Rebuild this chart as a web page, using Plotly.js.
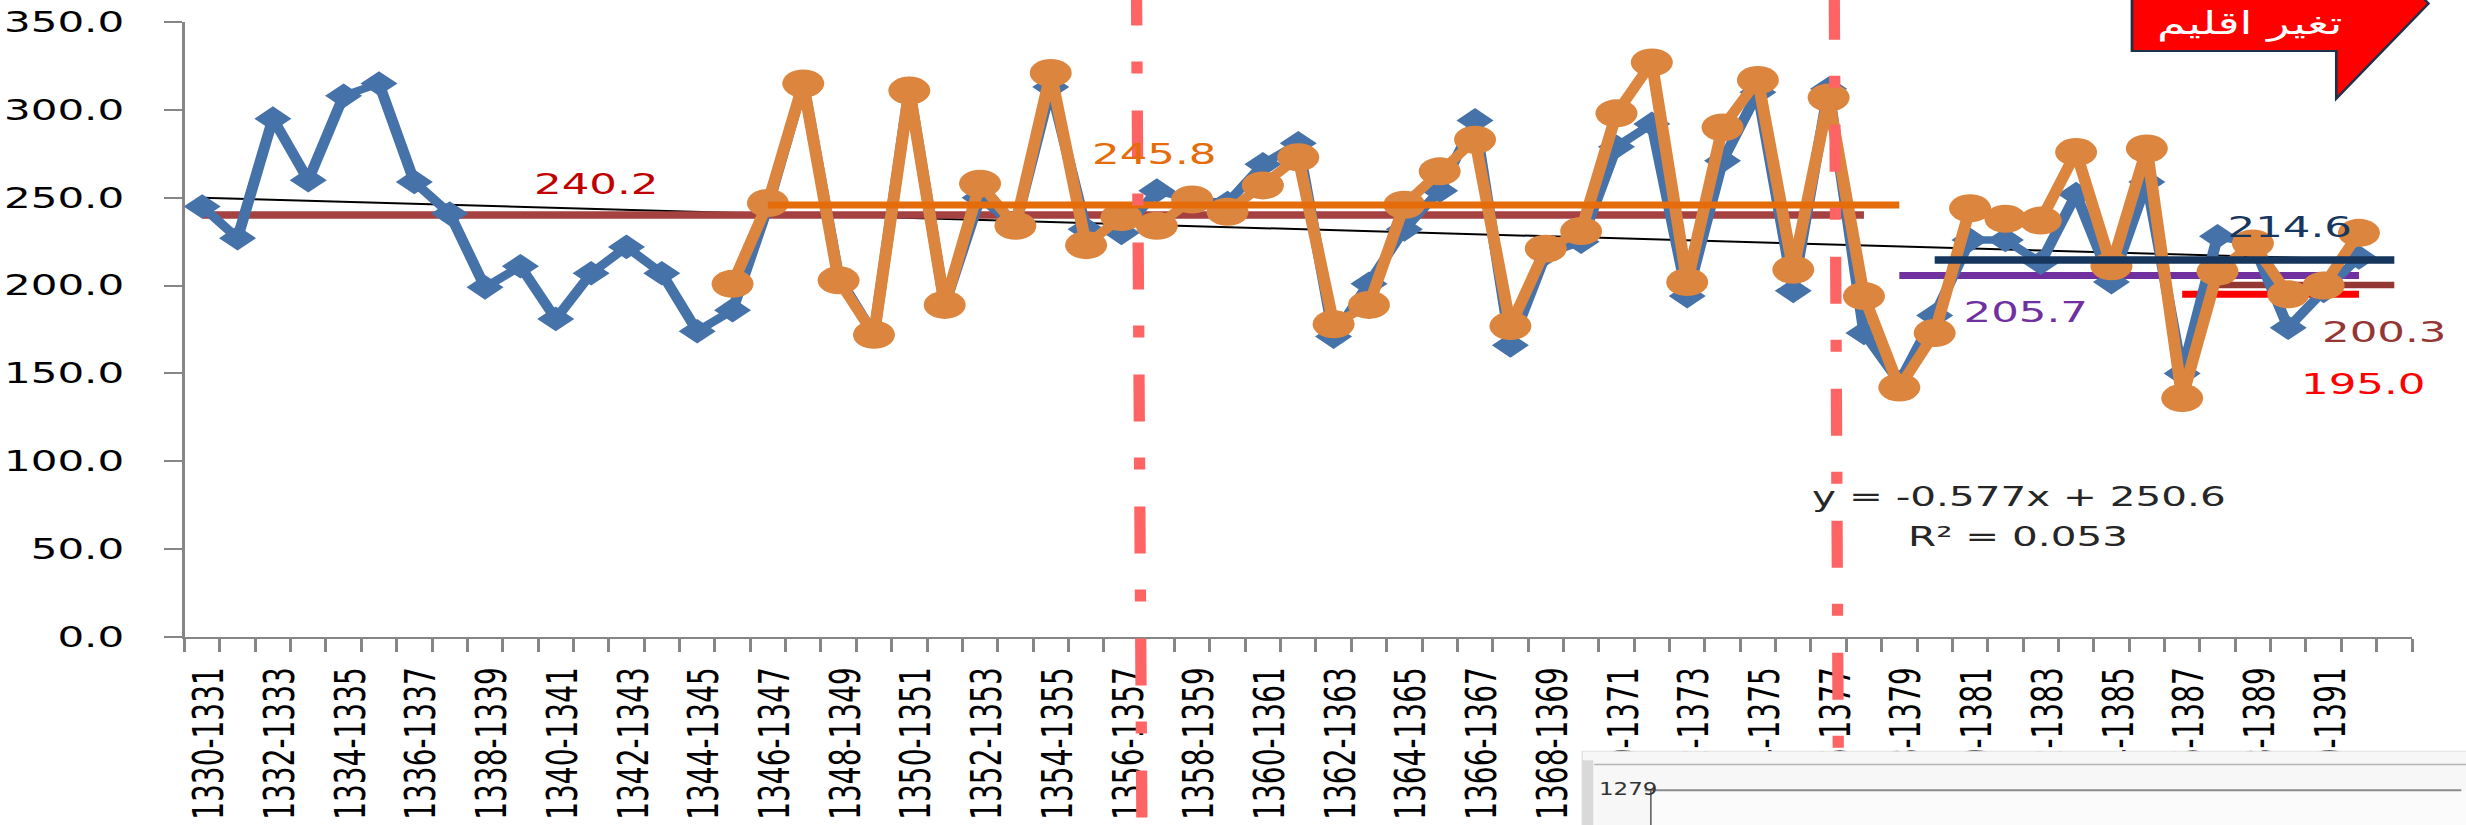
<!DOCTYPE html>
<html>
<head>
<meta charset="utf-8">
<script src="https://cdn.plot.ly/plotly-3.0.1.min.js"></script>
<style>
html, body { margin:0; padding:0; background:#ffffff; overflow:hidden; width:2466px; height:825px; }
#wrap { width:1644px; height:825px; transform:scaleX(1.5); transform-origin:0 0; }
#chart { width:1644px; height:825px; }
</style>
</head>
<body>
<div id="wrap"><div id="chart"></div></div>
<script>
// ---------------- DATA ----------------
const categories = [
  "1330-1331","1331-1332","1332-1333","1333-1334","1334-1335","1335-1336","1336-1337","1337-1338",
  "1338-1339","1339-1340","1340-1341","1341-1342","1342-1343","1343-1344","1344-1345","1345-1346",
  "1346-1347","1347-1348","1348-1349","1349-1350","1350-1351","1351-1352","1352-1353","1353-1354",
  "1354-1355","1355-1356","1356-1357","1357-1358","1358-1359","1359-1360","1360-1361","1361-1362",
  "1362-1363","1363-1364","1364-1365","1365-1366","1366-1367","1367-1368","1368-1369","1369-1370",
  "1370-1371","1371-1372","1372-1373","1373-1374","1374-1375","1375-1376","1376-1377","1377-1378",
  "1378-1379","1379-1380","1380-1381","1381-1382","1382-1383","1383-1384","1384-1385","1385-1386",
  "1386-1387","1387-1388","1388-1389","1389-1390","1390-1391","1391-1392","1392-1393"
];
const tickLabels = [
  "1330-1331","","1332-1333","","1334-1335","","1336-1337","",
  "1338-1339","","1340-1341","","1342-1343","","1344-1345","",
  "1346-1347","","1348-1349","","1350-1351","","1352-1353","",
  "1354-1355","","1356-1357","","1358-1359","","1360-1361","",
  "1362-1363","","1364-1365","","1366-1367","","1368-1369","",
  "1370-1371","","1372-1373","","1374-1375","","1376-1377","",
  "1378-1379","","1380-1381","","1382-1383","","1384-1385","",
  "1386-1387","","1388-1389","","1390-1391","",""
];
const blueValues = [
  245, 227, 295, 260, 308, 315, 259, 241, 199, 211, 181, 207, 222, 207, 174, 186,
  245, 315, 205, 172, 312, 189, 250, 234, 313, 232, 230, 254, 249, 247, 269, 281,
  171, 201, 232, 254, 294, 166, 218, 225, 279, 292, 194, 271, 310, 197, 312, 173,
  145, 183, 226, 226, 213, 252, 202, 259, 150, 228, 224, 176, 197, 216
];
const orangeValues = [
  null, null, null, null, null, null, null, null, null, null, null, null, null, null, null, 201,
  247, 315, 203, 172, 311, 189, 258, 234, 321, 223, 239, 234, 249, 242, 257, 273,
  178, 189, 246, 265, 283, 177, 221, 231, 298, 327, 202, 290, 317, 209, 307, 194,
  142, 173, 244, 238, 237, 276, 211, 278, 136, 208, 224, 195, 200, 230
];
// period averages (value, first and last category index)
const meanValues = [240.2, 245.8, 214.6, 205.7, 200.3, 195.0];
const meanLabels = ["240.2", "245.8", "214.6", "205.7", "200.3", "195.0"];
const meanFrom   = [0, 16, 49, 48, 57, 56];
const meanTo     = [47, 48, 62, 61, 62, 61];
// linear trend (y = -0.577x + 250.6), end points
const trendValues = [250.0, 214.8];
const trendIdx = [0, 61];
const trendText = ["y = -0.577x + 250.6", "R² = 0.053"];
const calloutText = "تغیر اقلیم";
const overlayText = "1279";

// ---------------- GEOMETRY ----------------
const S = 1.5, W = 1644, H = 825;
const L = 184.3 / S, R = 2411.7 / S, T = 21.7, B = 636.7;
const px = x => (x / S - L) / (R - L);
const py = y => (B - y) / (B - T);

const FONT = "DejaVu Sans";
const meanColors = ["#A64141", "#E46C0A", "#17365D", "#7030A0", "#953735", "#FF0000"];
const meanWidths = [7.5, 7, 7.5, 7, 6.5, 7];

function meanTrace(k) {
  return {
    x: [categories[meanFrom[k]], categories[meanTo[k]]],
    y: [meanValues[k], meanValues[k]],
    mode: "lines", type: "scatter", hoverinfo: "skip",
    line: { color: meanColors[k], width: meanWidths[k] }
  };
}

const traces = [];
traces.push({
  x: trendIdx.map(i => categories[i]), y: trendValues,
  mode: "lines", type: "scatter", hoverinfo: "skip",
  line: { color: "#000000", width: 2 }
});
[0, 3, 5, 4].forEach(k => traces.push(meanTrace(k)));
traces.push({
  x: categories.slice(0, blueValues.length), y: blueValues,
  mode: "lines+markers", type: "scatter",
  line: { color: "#4672AA", width: 7.5 },
  marker: { symbol: "diamond", size: 19, color: "#4672AA" }
});
traces.push({
  x: categories.slice(0, orangeValues.length), y: orangeValues,
  mode: "lines+markers", type: "scatter", connectgaps: false,
  line: { color: "#DC853E", width: 8 },
  marker: { symbol: "circle", size: 28, color: "#DC853E" }
});
[2, 1].forEach(k => traces.push(meanTrace(k)));

// ---------------- ANNOTATIONS ----------------
const labelPos = [[595.5, 184], [1154, 154], [2290, 226.7], [2025, 311.7], [2384.2, 331.7], [2363.3, 383.3]];
const labelColors = ["#C00000", "#E46C0A", "#17375E", "#7030A0", "#943634", "#FF0000"];
const annotations = meanLabels.map((t, k) => ({
  text: t, xref: "paper", yref: "paper", x: px(labelPos[k][0]), y: py(labelPos[k][1]),
  xanchor: "center", yanchor: "middle", showarrow: false,
  font: { family: FONT, size: 29, color: labelColors[k] }
}));
annotations.push({
  text: trendText[0], xref: "paper", yref: "paper", x: px(1808), y: py(496),
  xanchor: "left", yanchor: "middle", showarrow: false,
  font: { family: FONT, size: 27, color: "#262626" }
});
annotations.push({
  text: trendText[1], xref: "paper", yref: "paper", x: px(1905), y: py(536),
  xanchor: "left", yanchor: "middle", showarrow: false,
  font: { family: FONT, size: 27, color: "#262626" }
});
annotations.push({
  text: calloutText, xref: "paper", yref: "paper", x: px(2250), y: py(23),
  xanchor: "center", yanchor: "middle", showarrow: false,
  font: { family: FONT, size: 31, color: "#FFFFFF" }
});
annotations.push({
  text: overlayText, xref: "paper", yref: "paper", x: px(1596), y: py(789),
  xanchor: "left", yanchor: "middle", showarrow: false,
  font: { family: "DejaVu Sans Condensed", size: 17, color: "#333333" }
});

// ---------------- SHAPES ----------------
function pathOf(pts) {
  return "M" + pts.map(p => px(p[0]) + "," + py(p[1])).join(" L") + " Z";
}
const shapes = [];
// dash-dot separators
shapes.push({ type: "line", xref: "paper", yref: "paper", layer: "above",
  x0: px(1136.2), y0: py(-21.7), x1: px(1141.7), y1: py(830),
  line: { color: "#FF6464", width: 7.5, dash: "47px,36px,12px,37px" } });
shapes.push({ type: "line", xref: "paper", yref: "paper", layer: "above",
  x0: px(1834), y0: py(-7.5), x1: px(1838.4), y1: py(830),
  line: { color: "#FF6464", width: 7.5, dash: "47px,36px,12px,37px" } });
// red block arrow callout
shapes.push({ type: "path", xref: "paper", yref: "paper", layer: "above",
  path: pathOf([[2131.7, -44], [2336, -44], [2336, -92], [2428.3, 3.3], [2336, 98.3], [2336, 50.7], [2131.7, 50.7]]),
  fillcolor: "#FF0000", line: { color: "#1B3249", width: 1.8 } });
// overlapping window (bottom right)
shapes.push({ type: "rect", xref: "paper", yref: "paper", layer: "above",
  x0: px(1582), y0: py(751), x1: px(2470), y1: py(830),
  fillcolor: "#F7F7F7", line: { color: "#E2E2E2", width: 1 } });
shapes.push({ type: "rect", xref: "paper", yref: "paper", layer: "above",
  x0: px(1582), y0: py(760), x1: px(1593), y1: py(830),
  fillcolor: "#D9D9D9", line: { width: 0 } });
shapes.push({ type: "line", xref: "paper", yref: "paper", layer: "above",
  x0: px(1594), y0: py(764.3), x1: px(2470), y1: py(764.3),
  line: { color: "#B4B4B4", width: 1.5 } });
shapes.push({ type: "rect", xref: "paper", yref: "paper", layer: "above",
  x0: px(1650.6), y0: py(790), x1: px(2470), y1: py(830),
  fillcolor: "#FBFBFB", line: { width: 0 } });
shapes.push({ type: "line", xref: "paper", yref: "paper", layer: "above",
  x0: px(1645), y0: py(790), x1: px(2461), y1: py(790),
  line: { color: "#8A8A8A", width: 2 } });
shapes.push({ type: "line", xref: "paper", yref: "paper", layer: "above",
  x0: px(1650.6), y0: py(790), x1: px(1650.6), y1: py(830),
  line: { color: "#555555", width: 1 } });

// ---------------- LAYOUT ----------------
const axisGray = "#868686";
const layout = {
  width: W, height: H,
  margin: { l: L, r: W - R, t: T, b: H - B, pad: 0 },
  paper_bgcolor: "#FFFFFF", plot_bgcolor: "rgba(0,0,0,0)",
  showlegend: false,
  xaxis: {
    type: "category", categoryorder: "array", categoryarray: categories,
    range: [-0.5, categories.length - 0.5],
    tickmode: "array", tickvals: categories, ticktext: tickLabels,
    tickson: "boundaries", ticks: "outside", ticklen: 13, tickwidth: 2, tickcolor: axisGray,
    showline: true, linecolor: axisGray, linewidth: 2, mirror: false,
    showgrid: false, zeroline: false, tickangle: -90, automargin: false,
    ticklabelstandoff: 17, ticklabelshift: 5,
    tickfont: { family: FONT, size: 28, color: "#000000" }, fixedrange: true
  },
  yaxis: {
    range: [0, 350], tick0: 0, dtick: 50, tickformat: ".1f",
    ticks: "outside", ticklen: 11.6, tickwidth: 2, tickcolor: axisGray,
    showline: true, linecolor: axisGray, linewidth: 2,
    showgrid: false, zeroline: false, automargin: false,
    ticklabelstandoff: 21,
    tickfont: { family: FONT, size: 28, color: "#000000" }, fixedrange: true
  },
  annotations: annotations,
  shapes: shapes
};

Plotly.newPlot("chart", traces, layout, { displayModeBar: false, staticPlot: true });
</script>
</body>
</html>
